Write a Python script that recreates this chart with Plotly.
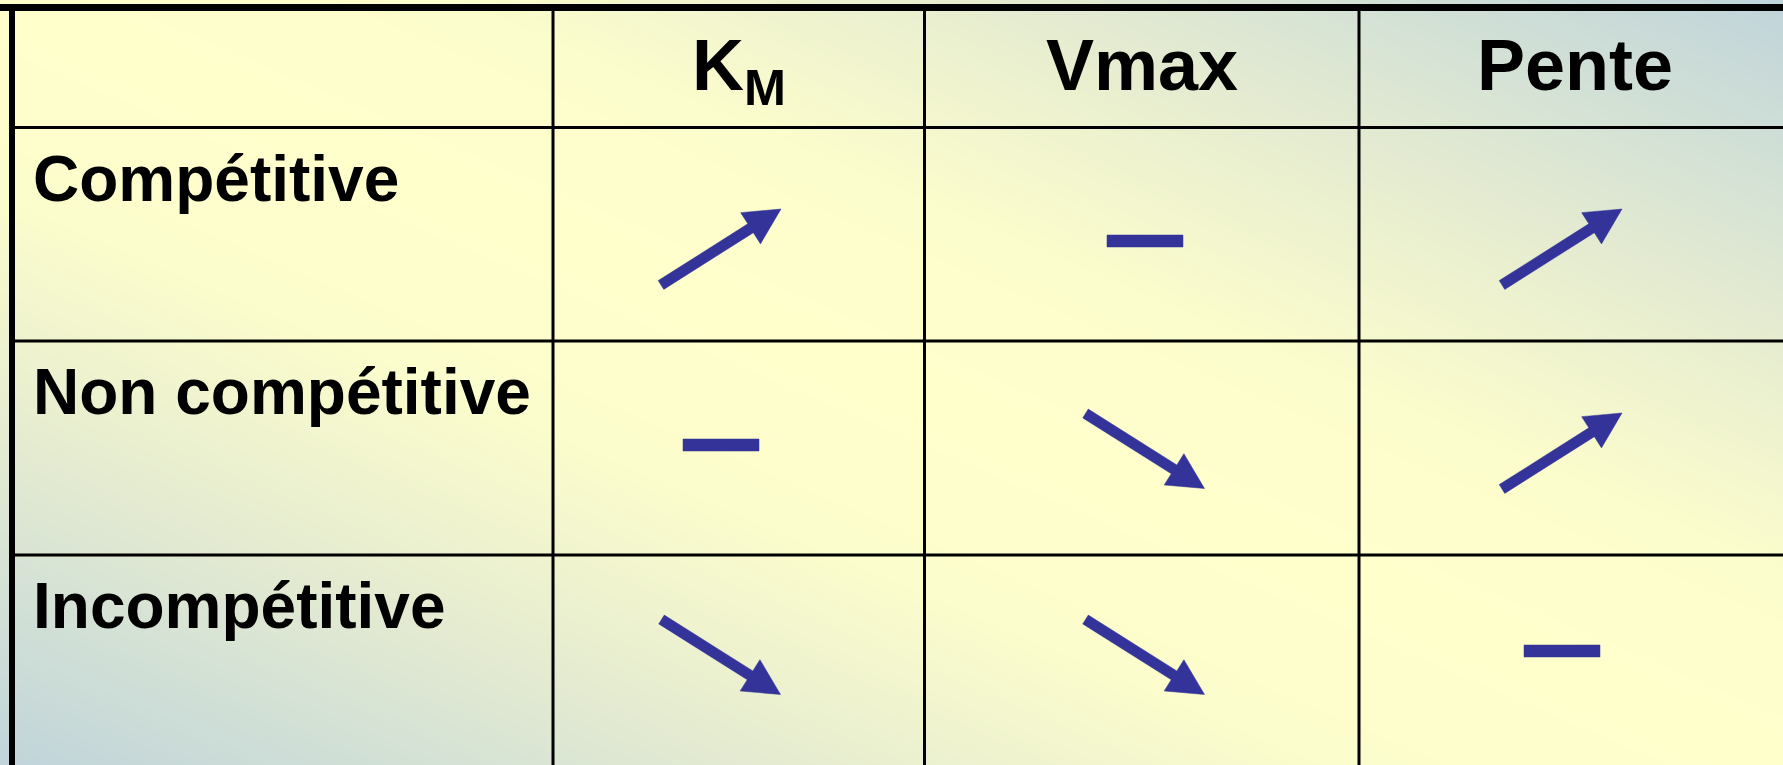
import numpy as np
import plotly.graph_objects as go

# ---------------- data ----------------
row_labels = ["Compétitive", "Non compétitive", "Incompétitive"]
col_labels = ["K<sub>M</sub>", "Vmax", "Pente"]
# effect of the inhibitor: +1 = increases, -1 = decreases, 0 = unchanged
effect_km = [1, 0, -1]
effect_vmax = [0, -1, -1]
effect_pente = [1, 1, 0]
effects = [effect_km, effect_vmax, effect_pente]

# ---------------- layout constants ----------------
W, H = 1783, 765
col_lines = [553, 924.5, 1359]
row_lines = [127.5, 341, 555]
left_border, top_border = 12, 7.5
col_left = [left_border, 553, 924.5, 1359]
col_right = [553, 924.5, 1359, 1790]
mark_cx = [721, 1145, 1562]
mark_cy = [247, 451, 657]
DASH_DY = -6
ARROW = "#333399"

fig = go.Figure()

# background gradient (blue-grey corners, yellow diagonal)
gx = np.linspace(0, W, 61)
gy = np.linspace(0, H, 31)
GX, GY = np.meshgrid(gx, gy)
gz = np.abs(GX / W - GY / H)
fig.add_trace(go.Heatmap(
    x=gx, y=gy, z=gz, zmin=0, zmax=1, zsmooth="best", showscale=False,
    hoverinfo="skip",
    colorscale=[[0, "#FFFFCC"], [0.25, "#FCFDCC"], [0.55, "#E6ECD0"],
                [0.8, "#D0DFD6"], [1, "#C0D4DA"]],
))


def arrow_poly(cx, cy, sign):
    # tail->tip vector in screen coords (y downwards)
    vx, vy = (120.0, -76.0) if sign > 0 else (119.0, 75.0)
    L = np.hypot(vx, vy)
    dx, dy = vx / L, vy / L
    nx, ny = -dy, dx
    tx, ty = cx - vx / 2, cy - vy / 2
    px, py = cx + vx / 2, cy + vy / 2
    hl, hw, sw = 36.0, 18.5, 5.2
    bx, by = px - hl * dx, py - hl * dy
    pts = [
        (tx + sw * nx, ty + sw * ny),
        (bx + sw * nx, by + sw * ny),
        (bx + hw * nx, by + hw * ny),
        (px, py),
        (bx - hw * nx, by - hw * ny),
        (bx - sw * nx, by - sw * ny),
        (tx - sw * nx, ty - sw * ny),
        (tx + sw * nx, ty + sw * ny),
    ]
    return [p[0] for p in pts], [p[1] for p in pts]


def dash_poly(cx, cy):
    hw, hh = 38.0, 6.0
    xs = [cx - hw, cx + hw, cx + hw, cx - hw, cx - hw]
    ys = [cy - hh, cy - hh, cy + hh, cy + hh, cy - hh]
    return xs, ys


for j, col_eff in enumerate(effects):
    for i, e in enumerate(col_eff):
        cx, cy = mark_cx[j], mark_cy[i]
        if e == 0:
            xs, ys = dash_poly(cx, cy + DASH_DY)
        else:
            xs, ys = arrow_poly(cx, cy, e)
        fig.add_trace(go.Scatter(
            x=xs, y=ys, mode="lines", fill="toself", fillcolor=ARROW,
            line=dict(color=ARROW, width=0.5), hoverinfo="skip",
            name=f"{row_labels[i]} / {col_labels[j]}",
        ))

# grid lines
shapes = []
shapes.append(dict(type="line", x0=0, x1=W, y0=top_border, y1=top_border,
                   line=dict(color="black", width=7), layer="above"))
shapes.append(dict(type="line", x0=left_border, x1=left_border, y0=top_border - 3.5, y1=H + 5,
                   line=dict(color="black", width=6), layer="above"))
for yl in row_lines:
    shapes.append(dict(type="line", x0=left_border, x1=W, y0=yl, y1=yl,
                       line=dict(color="black", width=3), layer="above"))
for xl in col_lines:
    shapes.append(dict(type="line", x0=xl, x1=xl, y0=top_border, y1=H + 5,
                       line=dict(color="black", width=3), layer="above"))

FONT = "Liberation Sans, Arial, Helvetica, sans-serif"
annotations = []
header_cx = [(col_left[k] + col_right[k]) / 2 for k in range(1, 4)]
for j, lab in enumerate(col_labels):
    annotations.append(dict(
        x=header_cx[j], y=65 + (5 if "<sub>" in lab else 0), xref="x", yref="y",
        text=lab, showarrow=False, xanchor="center", yanchor="middle",
        font=dict(family=FONT, size=72, color="black", weight=700),
    ))
for i, lab in enumerate(row_labels):
    annotations.append(dict(
        x=31, y=row_lines[i] + 13, xref="x", yref="y", text=lab, showarrow=False,
        xanchor="left", yanchor="top",
        font=dict(family=FONT, size=64, color="black", weight=700),
    ))

fig.update_layout(
    width=W, height=H,
    margin=dict(l=0, r=0, t=0, b=0, pad=0),
    paper_bgcolor="#FFFFCC", plot_bgcolor="#FFFFCC",
    showlegend=False,
    xaxis=dict(range=[0, W], visible=False, fixedrange=True),
    yaxis=dict(range=[H, 0], visible=False, fixedrange=True),
    shapes=shapes, annotations=annotations,
)

fig.write_html("out.html", config={"displayModeBar": False},
               post_script="document.body.style.margin='0';")
